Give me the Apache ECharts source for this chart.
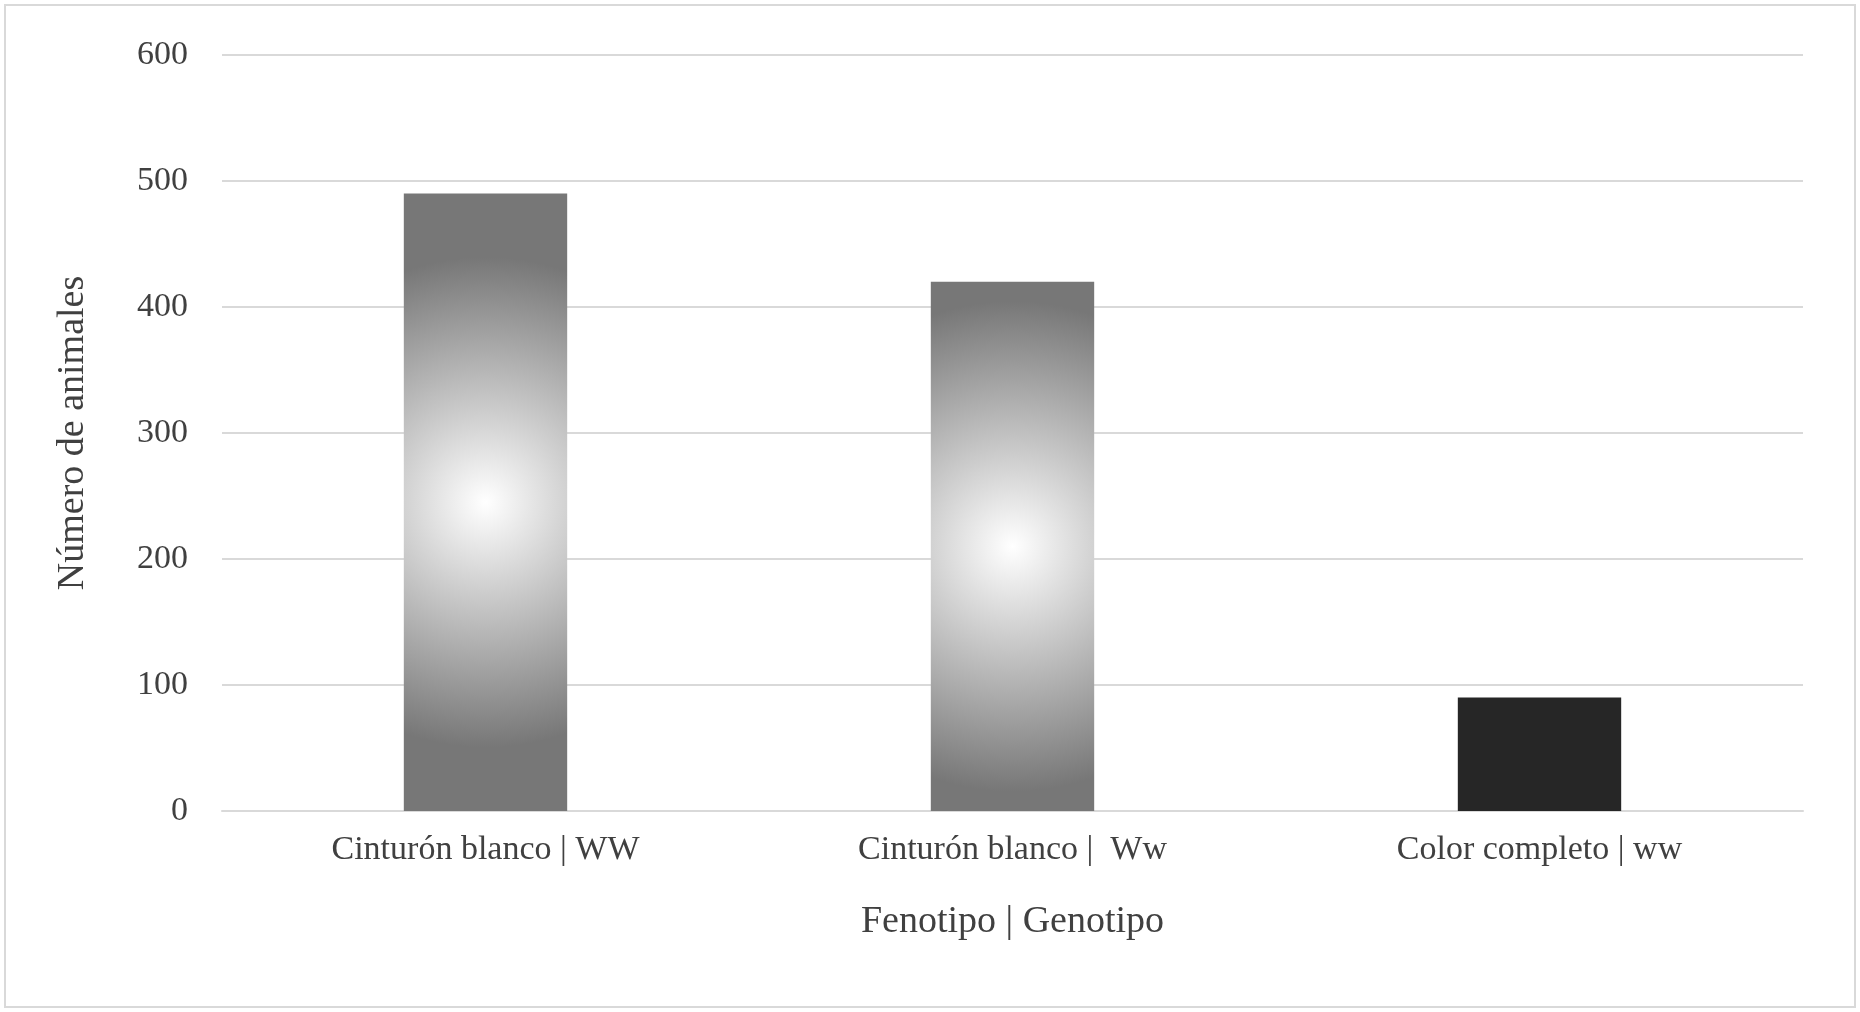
<!DOCTYPE html>
<html>
<head>
<meta charset="utf-8">
<script src="https://cdn.jsdelivr.net/npm/echarts@6/dist/echarts.min.js"></script>
<style>html,body{margin:0;padding:0;background:#fff}#chart{width:1860px;height:1012px}</style>
</head>
<body>
<div id="chart"></div>
<script>
const categories = ["Cinturón blanco | WW", "Cinturón blanco |  Ww", "Color completo | ww"];
const values = [490, 420, 90];
const yTicks = { min: 0, max: 600, interval: 100 };

const grad = {
  type: "radial", x: 0.5, y: 0.5, r: 1.5,
  colorStops: [{ offset: 0, color: "#ffffff" }, { offset: 1, color: "#777777" }]
};
const barColors = [grad, grad, "#262626"];

const options = {
  animation: false,
  textStyle: { fontFamily: "Liberation Serif" },
  grid: { left: 222, right: 57, top: 55, bottom: 201 },
  graphic: [{
    type: "rect", shape: { x: 5, y: 5, width: 1850, height: 1002 },
    style: { fill: "none", stroke: "#d9d9d9", lineWidth: 2 }
  }],
  xAxis: {
    type: "category", data: categories,
    name: "Fenotipo | Genotipo", nameLocation: "middle", nameGap: 92,
    nameTextStyle: { fontSize: 38, color: "#404040", fontFamily: "Liberation Serif" },
    axisLine: { lineStyle: { color: "#d9d9d9", width: 2 } },
    axisTick: { show: false },
    axisLabel: { fontSize: 34, color: "#404040", margin: 22, fontFamily: "Liberation Serif" }
  },
  yAxis: {
    type: "value", min: yTicks.min, max: yTicks.max, interval: yTicks.interval,
    name: "Número de animales", nameLocation: "middle", nameGap: 130,
    nameTextStyle: { fontSize: 38, color: "#404040", fontFamily: "Liberation Serif" },
    splitLine: { lineStyle: { color: "#d9d9d9", width: 2 } },
    axisLabel: { fontSize: 34, color: "#404040", margin: 34, fontFamily: "Liberation Serif" }
  },
  series: [{
    type: "bar", barWidth: "31%",
    data: values.map((v, i) => ({ value: v, itemStyle: { color: barColors[i] } }))
  }]
};

document.addEventListener("DOMContentLoaded", function () {
  const chart = echarts.init(document.getElementById("chart"));
  chart.setOption(options);
});
</script>
</body>
</html>
